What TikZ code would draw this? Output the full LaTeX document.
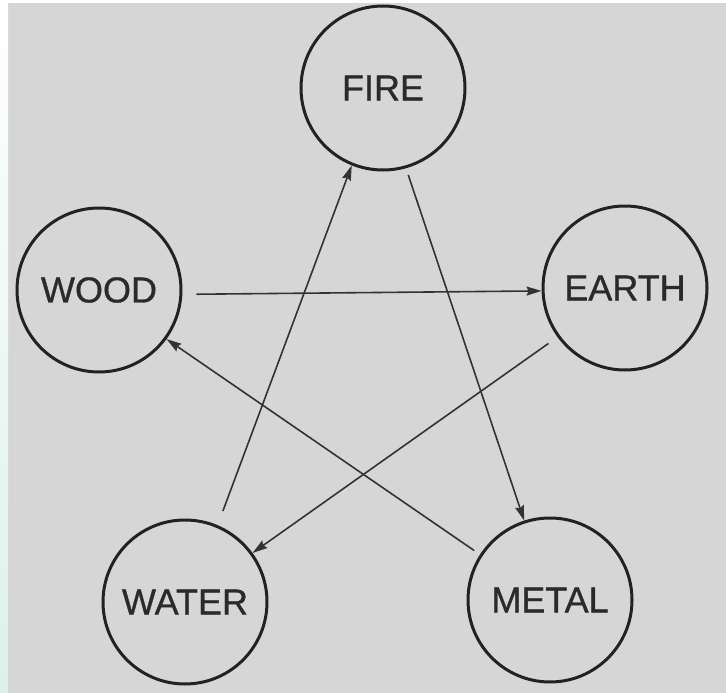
\documentclass[tikz,border=0pt]{standalone}
\usepackage{fontspec}
\setmainfont{Liberation Sans}
\newfontfamily\labelfont[FakeBold=0.8]{Liberation Sans}
\usetikzlibrary{arrows.meta}
\definecolor{bggray}{HTML}{D6D6D6}
\definecolor{inkdark}{HTML}{222222}
\definecolor{inkline}{HTML}{333333}
\definecolor{inktext}{HTML}{2A2A2A}
\definecolor{edgecyan}{HTML}{DCF1EC}
\tikzset{
  element/.style={circle, draw=inkdark, line width=3pt, minimum size=164pt, inner sep=0pt,
    font=\labelfont\fontsize{36}{40}\selectfont, text=inktext},
  flow/.style={draw=inkline, line width=1.6pt, -{Stealth[length=15pt,width=9pt,inset=2pt]}}
}
\begin{document}
\begin{tikzpicture}[x=1pt,y=-1pt]
  \useasboundingbox (0,0) rectangle (726,693);
  \fill[bggray] (0,0) rectangle (726,693);
  \fill[white] (0,0) rectangle (726,3);
  \shade[top color=white, bottom color=edgecyan] (0,0) rectangle (8,693);

  \node[element] (fire)  at (383,88)  {FIRE};
  \node[element] (wood)  at (99,290)  {WOOD};
  \node[element] (earth) at (625,288) {EARTH};
  \node[element] (water) at (185,602) {WATER};
  \node[element] (metal) at (550,600) {METAL};

  \draw[flow, shorten <=14pt] (wood.-3) -- (earth.182);
  \draw[flow, shorten <=11pt] (earth.216) -- (water.36);
  \draw[flow, shorten <=15pt] (water.67) -- (fire.248);
  \draw[flow, shorten <=7pt] (fire.-74) -- (metal.108);
  \draw[flow, shorten <=7pt] (metal.147) -- (wood.-36);
\end{tikzpicture}
\end{document}
